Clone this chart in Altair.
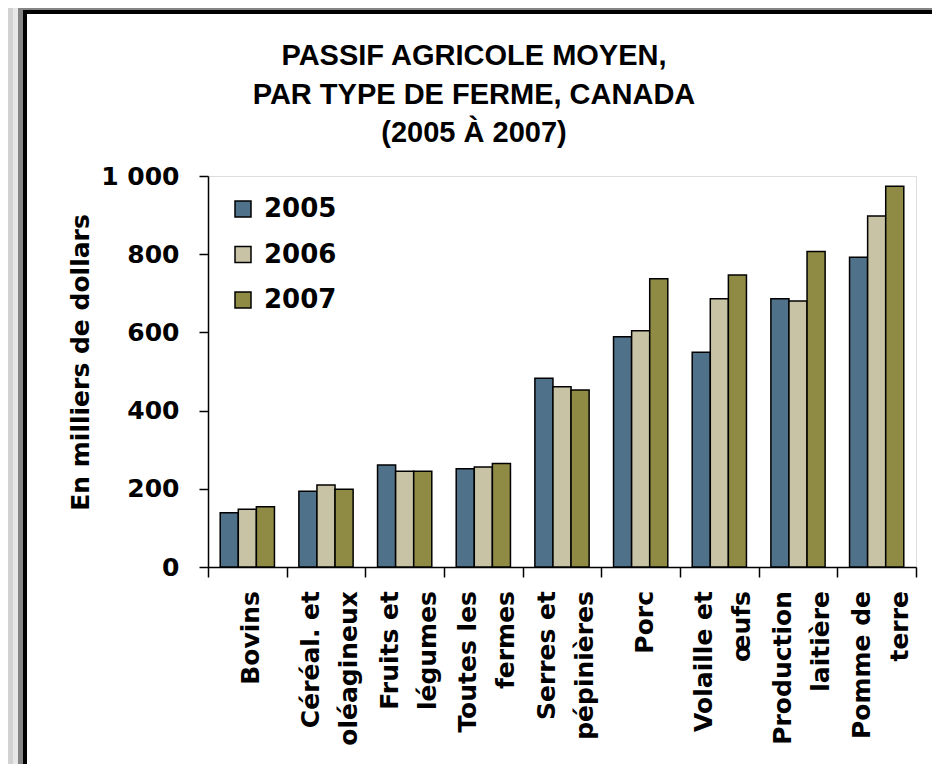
import altair as alt
import pandas as pd

categories = [
    "Bovins",
    "Céréal. et\noléagineux",
    "Fruits et\nlégumes",
    "Toutes les\nfermes",
    "Serres et\npépinières",
    "Porc",
    "Volaille et\nœufs",
    "Production\nlaitière",
    "Pomme de\nterre",
]
years = ["2005", "2006", "2007"]
values_2005 = [139, 194, 261, 251, 483, 589, 549, 686, 792]
values_2006 = [148, 210, 245, 256, 461, 604, 686, 680, 898]
values_2007 = [154, 199, 245, 265, 453, 737, 747, 807, 974]
colors = ["#4f7189", "#c8c3a4", "#8f8b45"]
title_lines = ["PASSIF AGRICOLE MOYEN,", "PAR TYPE DE FERME, CANADA", "(2005 À 2007)"]

rows = []
for yr, vals in zip(years, [values_2005, values_2006, values_2007]):
    for c, v in zip(categories, vals):
        rows.append({"cat": c, "year": yr, "value": v})
df = pd.DataFrame(rows)

label_rows = []
for c in categories:
    parts = c.split("\n")
    label_rows.append({"cat": c, "line1": parts[0], "line2": parts[1] if len(parts) > 1 else ""})
labels_df = pd.DataFrame(label_rows)

FONT = "DejaVu Sans"
xenc = alt.X(
    "cat:N",
    sort=categories,
    title=None,
    scale=alt.Scale(paddingInner=0, paddingOuter=0),
    axis=alt.Axis(
        labels=False,
        tickBand="extent",
        tickSize=10,
        tickColor="black",
        tickWidth=1.5,
        domainColor="black",
        domainWidth=1.5,
    ),
)

bars = alt.Chart(df).mark_bar(stroke="black", strokeWidth=1.5).encode(
    x=xenc,
    xOffset=alt.XOffset("year:N", scale=alt.Scale(paddingInner=0, paddingOuter=0.675)),
    y=alt.Y(
        "value:Q",
        scale=alt.Scale(domain=[0, 1000], nice=False),
        axis=alt.Axis(
            values=[0, 200, 400, 600, 800, 1000],
            labelExpr="replace(format(datum.value, ','), ',', ' ')",
            labelFont=FONT,
            labelFontWeight="bold",
            labelFontSize=25,
            labelColor="black",
            labelPadding=20,
            tickSize=9,
            tickColor="black",
            tickWidth=1.5,
            domainColor="black",
            domainWidth=1.5,
            grid=False,
            title="En milliers de dollars",
            titleFont=FONT,
            titleFontWeight="bold",
            titleFontSize=25,
            titleColor="black",
            titleAngle=-90,
            titleAlign="center",
            titleBaseline="middle",
            titleX=-128,
            titleY=186,
        ),
    ),
    color=alt.Color(
        "year:N",
        scale=alt.Scale(domain=years, range=colors),
        legend=alt.Legend(
            title=None,
            orient="none",
            legendX=22,
            legendY=20,
            symbolType="square",
            symbolSize=256,
            symbolStrokeColor="black",
            symbolStrokeWidth=1.5,
            symbolOpacity=1,
            labelFont=FONT,
            labelFontWeight="bold",
            labelFontSize=26,
            labelColor="black",
            labelOffset=8,
            rowPadding=19.5,
            padding=0,
        ),
    ),
)

label_style = dict(angle=270, align="right", baseline="middle", font=FONT,
                   fontWeight="bold", fontSize=25, color="black")
xlab = alt.X("cat:N", sort=categories)
lab_single = alt.Chart(labels_df).transform_filter("datum.line2 == ''").mark_text(
    dy=4, **label_style).encode(x=xlab, y=alt.value(415), text="line1:N")
lab_first = alt.Chart(labels_df).transform_filter("datum.line2 != ''").mark_text(
    dy=-15, **label_style).encode(x=xlab, y=alt.value(415), text="line1:N")
lab_second = alt.Chart(labels_df).transform_filter("datum.line2 != ''").mark_text(
    dy=23, **label_style).encode(x=xlab, y=alt.value(415), text="line2:N")

dummy = pd.DataFrame({"d": [0]})

title = alt.Chart(dummy).mark_text(
    text=title_lines, font="Liberation Sans", fontWeight="bold", fontSize=29,
    lineHeight=38.5, align="center", baseline="top", color="black",
).encode(x=alt.value(266), y=alt.value(-134))


def strip(x, x2, y, y2, color):
    return alt.Chart(dummy).mark_rect(color=color).encode(
        x=alt.value(x), x2=alt.value(x2), y=alt.value(y), y2=alt.value(y2)
    )


frame = [
    strip(-200, -195, -168, 600, "#d2d2d2"),
    strip(-195, -190, -168, 600, "#e8e8e8"),
    strip(-190, 724, -168, -166, "#858585"),
    strip(-190, -185, -168, 600, "#858585"),
    strip(-185, 724, -166, -162, "black"),
    strip(-185, -181, -166, 600, "black"),
]

chart = alt.layer(*frame, bars, lab_single, lab_first, lab_second, title).properties(
    width=708,
    height=391,
    autosize=alt.AutoSizeParams(type="none"),
    padding={"left": 200, "top": 168, "right": 16, "bottom": 197},
).configure_view(stroke=None).configure(background="white")

chart.save("out.html", embed_options={"renderer": "svg", "actions": False})
